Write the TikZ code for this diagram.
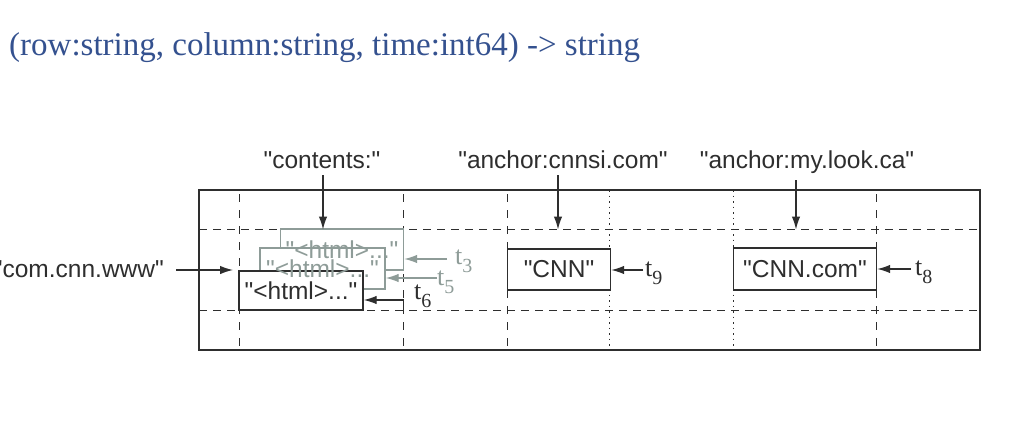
\documentclass[tikz,border=0pt]{standalone}
\usepackage{fontspec}
\setmainfont{Liberation Sans}[Ligatures=TeXOff]
\newfontfamily\titlefont{Liberation Serif}[Ligatures=TeXOff]
\newfontfamily\tfont{Liberation Serif}
\usetikzlibrary{arrows.meta}
\definecolor{titleblue}{HTML}{34518F}
\definecolor{ink}{HTML}{2E2E2E}
\definecolor{ghost}{HTML}{8E9C98}
\newcommand{\tlab}[1]{{\tfont\fontsize{26}{30}\selectfont t\raisebox{-8pt}{\fontsize{20}{22}\selectfont #1}}}
\begin{document}
\begin{tikzpicture}[x=1pt,y=-1pt,
  lab/.style={font=\fontsize{24.5}{29}\selectfont, text=ink, inner sep=2pt},
  cell/.style={draw=ink, line width=1.4pt, fill=white, inner sep=0pt},
  gcell/.style={draw=ghost, line width=1.4pt, fill=white, inner sep=0pt},
  arr/.style={draw=ink, line width=1.3pt, -{Latex[length=13pt,width=8.5pt]}},
  garr/.style={draw=ghost, line width=1.3pt, -{Latex[length=13pt,width=8.5pt]}},
  grid/.style={draw=ink, line width=1.1pt, dash pattern=on 8pt off 6pt},
  vgrid/.style={draw=ink, line width=1.1pt, dash pattern=on 8pt off 8pt},
  dots/.style={draw=ink, line width=1.1pt, dash pattern=on 1.5pt off 4pt},
]
\useasboundingbox[fill=white] (0,0) rectangle (1036,426);

% title
\node[anchor=base west, text=titleblue, inner sep=0pt,
      font=\titlefont\fontsize{33}{40}\selectfont] (title) at (9,55)
      {(row:string, column:string, time:int64) -> string};

% table frame and grid
\node[draw=ink, line width=2.4pt, minimum width=781, minimum height=160, inner sep=0pt] (table) at (589.5,270) {};
\draw[grid] (199,229.5) -- (980,229.5);
\draw[grid] (199,310.5) -- (980,310.5);
\draw[vgrid] (239.5,194) -- (239.5,350);
\draw[vgrid] (403.5,194) -- (403.5,350);
\draw[vgrid] (507.5,194) -- (507.5,350);
\draw[vgrid] (876.5,194) -- (876.5,350);
\draw[dots] (609.5,190) -- (609.5,350);
\draw[dots] (733.5,190) -- (733.5,350);

% cells (boxes)
\node[gcell, minimum width=123, minimum height=41] (t3box) at (342,249.5) {};
\node[gcell, minimum width=125, minimum height=41] (t5box) at (322.5,268.5) {};
\node[cell, minimum width=124, minimum height=39] (t6box) at (301,290.5) {};
\node[cell, minimum width=103, minimum height=41] (cnnbox) at (559,269.5) {};
\node[cell, minimum width=143, minimum height=42] (cnncombox) at (805,269) {};

% cell contents
\node[lab, text=ghost] (t3txt) at (t3box.center) {"<html>..."};
\node[lab, text=ghost] (t5txt) at (t5box.center) {"<html>..."};
\node[lab] (t6txt) at (t6box.center) {"<html>..."};
\node[lab] (cnntxt) at (cnnbox.center) {"CNN"};
\node[lab] (cnncomtxt) at (cnncombox.center) {"CNN.com"};

% column labels
\node[lab, anchor=base] (contents) at (322,168) {"contents:"};
\node[lab, anchor=base] (cnnsi) at (563,168) {"anchor:cnnsi.com"};
\node[lab, anchor=base] (mylook) at (807,168) {"anchor:my.look.ca"};
\coordinate (c1) at (323,229.5);
\coordinate (c2) at (558,229.5);
\coordinate (c3) at (796,229.5);
\draw[arr, shorten <=5pt] (contents.south -| c1) -- (c1);
\draw[arr, shorten <=5pt] (cnnsi.south -| c2) -- (c2);
\draw[arr, shorten <=5pt] (mylook.south -| c3) -- (c3);

% row label
\node[lab, anchor=base east] (row) at (166,277) {"com.cnn.www"};
\coordinate (r1) at (233,270);
\draw[arr, shorten <=10pt] (row.east |- r1) -- (r1);

% timestamps
\node[anchor=base west, inner sep=0pt, text=ghost] (t3) at (455,264) {\tlab{3}};
\node[anchor=base west, inner sep=0pt, text=ghost] (t5) at (437,285) {\tlab{5}};
\node[anchor=base west, inner sep=0pt, text=ink] (t6) at (414,299) {\tlab{6}};
\node[anchor=base west, inner sep=0pt, text=ink] (t9) at (645,276) {\tlab{9}};
\node[anchor=base west, inner sep=0pt, text=ink] (t8) at (915,275) {\tlab{8}};

\draw[garr] (447,259) -- (t3box.east |- 0,259);
\draw[garr] (t5.west |- 0,278) -- (t5box.east |- 0,278);
\coordinate (t6c) at (403.5,310.5);
\draw[arr] (t6c) -- (403.5,300) -- (t6box.east |- 0,300);
\draw[arr] (t9.west |- 0,270) ++(-2,0) -- (cnnbox.east |- 0,270);
\draw[arr] (t8.west |- 0,269) ++(-4,0) -- (cnncombox.east |- 0,269);
\end{tikzpicture}
\end{document}
